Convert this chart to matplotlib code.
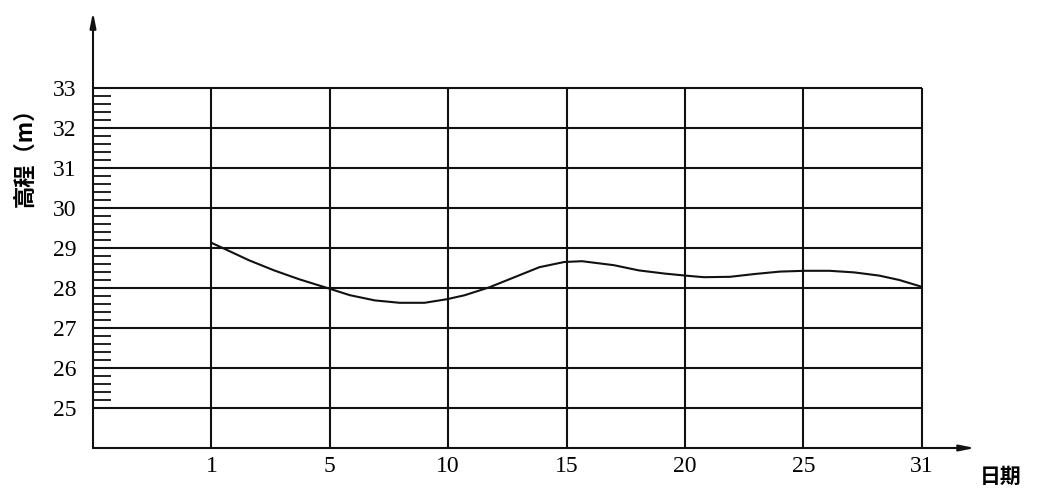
import matplotlib
matplotlib.use("Agg")
import matplotlib.pyplot as plt

# x-axis categories (days), evenly spaced on the chart
days = ["1", "5", "10", "15", "20", "25", "31"]
y_levels = [25, 26, 27, 28, 29, 30, 31, 32, 33]
minor_levels = [round(25 + 0.2 * i, 1) for i in range(1, 40) if i % 5 != 0]

# curve: position in category units (0 = day 1, 6 = day 31) and elevation (m)
curve_pos = [0.0, 0.11, 0.32, 0.53, 0.74, 1.0, 1.17, 1.38, 1.59, 1.80, 1.99, 2.14,
             2.35, 2.56, 2.77, 2.98, 3.13, 3.40, 3.61, 3.83, 4.04, 4.16, 4.38,
             4.59, 4.80, 5.01, 5.22, 5.43, 5.64, 5.81, 6.0]
curve_val = [29.13, 28.98, 28.69, 28.44, 28.22, 27.98, 27.82, 27.69, 27.63, 27.63, 27.72, 27.82,
             28.02, 28.27, 28.52, 28.65, 28.67, 28.57, 28.44, 28.36, 28.30, 28.27, 28.28,
             28.35, 28.41, 28.43, 28.43, 28.39, 28.31, 28.20, 28.03]

serif = "Liberation Serif"
cjk = ["Noto Sans CJK SC", "DejaVu Sans"]

fig = plt.figure(figsize=(10.38, 4.88), dpi=100)
ax = fig.add_axes([93 / 1038, 40 / 488, 887 / 1038, 440 / 488])
ax.set_xlim(-1, -1 + 887 / 118.4)
ax.set_ylim(24, 35)
for s in ax.spines.values():
    s.set_visible(False)

lc = "#111111"
lw = 1.5
ax.hlines(y_levels, -1, 6, color=lc, lw=lw)
ax.vlines(range(len(days)), 24, 33, color=lc, lw=lw)

# axes with arrows
arrow = dict(arrowstyle="-|>,head_length=0.9,head_width=0.18", color=lc, lw=lw,
             shrinkA=0, shrinkB=0)
ax.annotate("", xy=(6.45, 24), xytext=(-1, 24), arrowprops=arrow, annotation_clip=False)
ax.annotate("", xy=(-1, 34.9), xytext=(-1, 24), arrowprops=arrow, annotation_clip=False)

ax.plot(curve_pos, curve_val, color=lc, lw=1.5, solid_capstyle="round", solid_joinstyle="round")

ax.set_xticks(range(len(days)))
ax.set_xticklabels(days, fontfamily=serif, fontsize=17)
ax.set_yticks(y_levels)
ax.set_yticklabels([str(v) for v in y_levels], fontfamily=serif, fontsize=17)
ax.set_yticks(minor_levels, minor=True)
ax.tick_params(axis="x", length=0, pad=6)
ax.tick_params(axis="y", which="major", length=0, pad=12)
ax.tick_params(axis="y", which="minor", direction="in", length=13, width=1.3, color=lc)

ax.text(6.67, 23.3, "日期", family=cjk, fontsize=15, fontweight="bold", ha="center", va="center")
fig.text(25 / 1038, 1 - 152 / 488, "高程（m）", family=cjk, fontsize=16, fontweight="bold",
         rotation=90, ha="center", va="center")

fig.savefig("out.png", dpi=100)
